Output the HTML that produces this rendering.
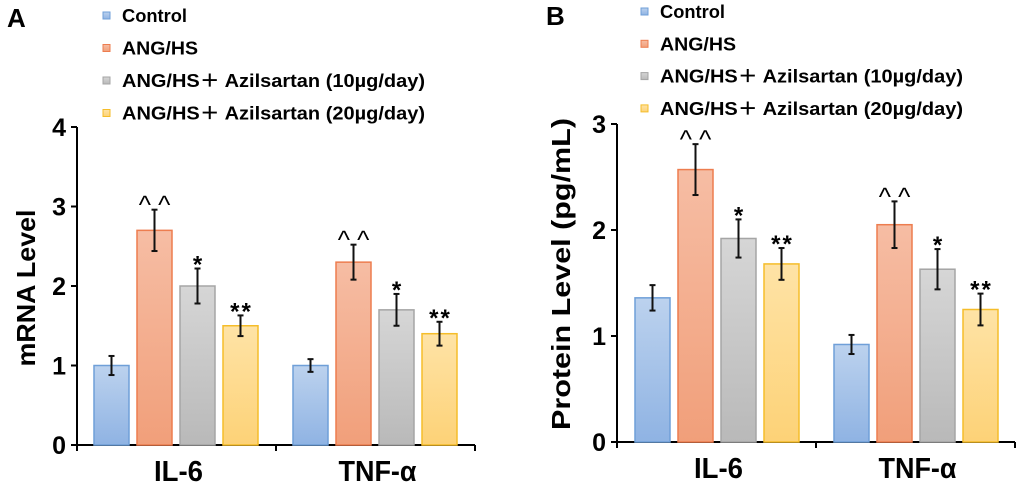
<!DOCTYPE html>
<html><head><meta charset="utf-8"><style>
body{margin:0;background:#fff;}
svg{display:block;font-family:"Liberation Sans","Noto Sans CJK SC",sans-serif;font-weight:bold;}
</style></head><body>
<svg id="chart" width="1020" height="484" viewBox="0 0 1020 484">
<defs>
<linearGradient id="g0" x1="0" y1="0" x2="0" y2="1"><stop offset="0" stop-color="#bcd2ee"/><stop offset="1" stop-color="#8fb3e3"/></linearGradient>
<linearGradient id="g1" x1="0" y1="0" x2="0" y2="1"><stop offset="0" stop-color="#f6bda4"/><stop offset="1" stop-color="#f19f7a"/></linearGradient>
<linearGradient id="g2" x1="0" y1="0" x2="0" y2="1"><stop offset="0" stop-color="#d6d6d6"/><stop offset="1" stop-color="#b9b9b9"/></linearGradient>
<linearGradient id="g3" x1="0" y1="0" x2="0" y2="1"><stop offset="0" stop-color="#fee3a6"/><stop offset="1" stop-color="#fdd277"/></linearGradient>
</defs>
</svg>
<script>
const seriesNames=["Control","ANG/HS","ANG/HS\uFF0B Azilsartan (10\u00B5g/day)","ANG/HS\uFF0B Azilsartan (20\u00B5g/day)"];
const categories=["IL-6","TNF-\u03B1"];
const mrnaValues=[[1.0,1.0],[2.7,2.3],[2.0,1.7],[1.5,1.4]];
const mrnaErrors=[[0.12,0.08],[0.26,0.22],[0.22,0.2],[0.13,0.15]];
const proteinValues=[[1.36,0.92],[2.57,2.05],[1.92,1.63],[1.68,1.25]];
const proteinErrors=[[0.12,0.09],[0.24,0.22],[0.18,0.19],[0.15,0.15]];
const sigMarks=["","^^","*","**"];
const mrnaTicks=[0,1,2,3,4];
const proteinTicks=[0,1,2,3];
const strokes=["#6f9fd8","#ed7d4f","#a5a5a5","#f5bd2a"];
const legendWidths=[65,76,303,303];
const catWidths=[49,78];
const NS="http://www.w3.org/2000/svg";
const svg=document.getElementById('chart');
function mk(tag,attrs,parent,text){const e=document.createElementNS(NS,tag);for(const k in attrs)e.setAttribute(k,attrs[k]);if(text!==undefined)e.textContent=text;(parent||svg).appendChild(e);return e;}
function panel(p){
  const g=mk('g',{});
  
  
  const y=v=>p.y0-(v/p.max)*(p.y0-p.yTop);
  const t=mk('text',{x:p.letterX,y:p.letterY,'font-size':26},g,p.letter);
  
  
  seriesNames.forEach((s,i)=>{
    const ly=p.legY+i*p.legStep;
    const r=mk('rect',{x:p.legX,y:ly-4,width:7,height:7,fill:`url(#g${i})`,stroke:strokes[i],'stroke-width':1},g);
    
    
    const lt=mk('text',{x:p.legX+19,y:ly+6,'font-size':18,textLength:legendWidths[i],lengthAdjust:'spacingAndGlyphs'},g,s);
    
    
  });
  const ax=mk('line',{x1:p.ax,y1:p.yTop,x2:p.ax,y2:p.y0+1,stroke:'#000','stroke-width':2},g);
  
  
  const xa=mk('line',{x1:p.ax-6,y1:p.y0,x2:p.xEnd,y2:p.y0,stroke:'#000','stroke-width':2},g);
  
  
  [p.ax,(p.ax+p.xEnd)/2,p.xEnd].forEach(x=>mk('line',{x1:x,y1:p.y0,x2:x,y2:p.y0+6,stroke:'#000','stroke-width':2},g));
  p.ticks.forEach(v=>{
    mk('line',{x1:p.ax-6,y1:y(v),x2:p.ax,y2:y(v),stroke:'#000','stroke-width':2},g);
    const tl=mk('text',{x:p.ax-11,y:y(v)+9,'font-size':25,'text-anchor':'end'},g,String(v));
    
    
  });
  const yt=mk('text',{x:0,y:0,'font-size':26,'text-anchor':'middle',textLength:p.titleLen,lengthAdjust:'spacingAndGlyphs',transform:`translate(${p.titleX},${p.titleY}) rotate(-90)`},g,p.title);
  
  
  const half=(p.xEnd-p.ax)/2;
  categories.forEach((c,ci)=>{
    const gx=p.ax+ci*half;
    const ct=mk('text',{x:gx+half/2+2,y:p.y0+36,'font-size':29,'text-anchor':'middle',textLength:catWidths[ci],lengthAdjust:'spacingAndGlyphs'},g,c);
    
    
    seriesNames.forEach((s,i)=>{
      const v=p.values[i][ci],e=p.errors[i][ci];
      const bx=gx+p.off+i*p.step;
      const b=mk('rect',{x:bx,y:y(v),width:p.bw,height:p.y0-y(v),fill:`url(#g${i})`,stroke:strokes[i],'stroke-width':1.5},g);
      
      
      const cx=bx+p.bw/2;
      mk('line',{x1:cx,y1:y(v+e),x2:cx,y2:y(v-e),stroke:'#111','stroke-width':2},g);
      mk('line',{x1:cx-3,y1:y(v+e),x2:cx+3,y2:y(v+e),stroke:'#111','stroke-width':2},g);
      mk('line',{x1:cx-3,y1:y(v-e),x2:cx+3,y2:y(v-e),stroke:'#111','stroke-width':2},g);
      if(sigMarks[i]){
        const caret=sigMarks[i]==='^^';
        const sm=mk('text',{x:cx,y:caret?y(v+e)+4:y(v+e)+4,'font-size':caret?26:24,'font-weight':caret?'normal':'bold','text-anchor':'middle'},g,caret?'^ ^':sigMarks[i].split('').join('\u200A'));
        
        
      }
    });
  });
}
panel({name:'panel-a-mrna',letter:'A',letterX:7,letterY:27,legX:103,legY:16,legStep:32.5,ax:77,xEnd:475,y0:445,yTop:127,max:4,ticks:mrnaTicks,title:'mRNA Level',titleX:35,titleY:288,titleLen:157,values:mrnaValues,errors:mrnaErrors,off:17,step:43,bw:35});
panel({name:'panel-b-protein',letter:'B',letterX:546,letterY:25,legX:641,legY:12,legStep:32.3,ax:617,xEnd:1015,y0:442,yTop:124,max:3,ticks:proteinTicks,title:'Protein Level (pg/mL)',titleX:570,titleY:274,titleLen:312,values:proteinValues,errors:proteinErrors,off:18,step:43,bw:35});
</script>
</body></html>
